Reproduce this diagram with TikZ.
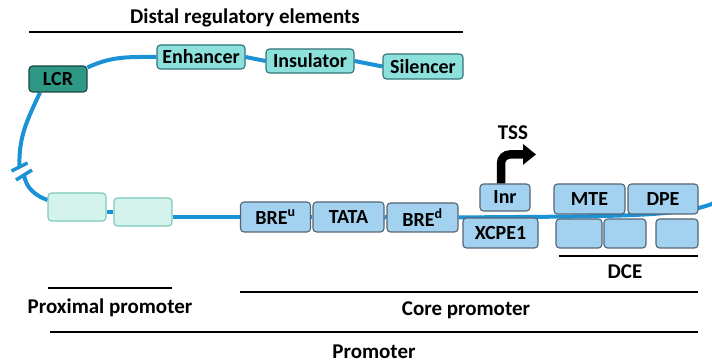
\documentclass[tikz,border=0pt]{standalone}
\usepackage{fontspec}
\setmainfont{Carlito}
\usetikzlibrary{arrows.meta,backgrounds}
\definecolor{dnablue}{RGB}{28,146,214}
\definecolor{tealfill}{RGB}{140,225,220}
\definecolor{tealdraw}{RGB}{50,115,120}
\definecolor{lcrfill}{RGB}{45,152,132}
\definecolor{lcrdraw}{RGB}{30,70,70}
\definecolor{proxfill}{RGB}{212,243,237}
\definecolor{proxdraw}{RGB}{125,200,185}
\definecolor{corefill}{RGB}{162,210,240}
\definecolor{coredraw}{RGB}{85,100,115}
\begin{document}
\begin{tikzpicture}[x=1pt,y=1pt,
  every node/.style={font=\fontsize{20}{22}\selectfont\bfseries, inner sep=0pt},
  elem/.style={rectangle, rounded corners=3.5pt, line width=1.1pt},
  distal/.style={elem, fill=tealfill, draw=tealdraw},
  lcrbox/.style={elem, fill=lcrfill, draw=lcrdraw},
  proxbox/.style={elem, fill=proxfill, draw=proxdraw},
  corebox/.style={elem, fill=corefill, draw=coredraw},
  dna/.style={draw=dnablue, line width=4pt},
  bracket/.style={draw=black, line width=1.4pt},
  title/.style={font=\fontsize{21}{23}\selectfont\bfseries}]
\useasboundingbox (0,0) rectangle (712,364);
% distal elements
\node[lcrbox, minimum width=58pt, minimum height=26pt] (LCR) at (58,285) {LCR};
\node[distal, minimum width=88pt, minimum height=24pt] (Enh) at (201,307) {Enhancer};
\node[distal, minimum width=88pt, minimum height=24pt] (Ins) at (310,303) {Insulator};
\node[distal, minimum width=80pt, minimum height=25pt] (Sil) at (423,297.5) {Silencer};
% proximal
\node[proxbox, minimum width=58pt, minimum height=28pt] (P1) at (77,157) {};
\node[proxbox, minimum width=58pt, minimum height=28pt] (P2) at (143,152) {};
% core
\node[corebox, minimum width=70pt, minimum height=30pt] (BREu) at (275.5,147) {BRE\textsuperscript{u}};
\node[corebox, minimum width=71pt, minimum height=30pt] (TATA) at (348.5,147) {TATA};
\node[corebox, minimum width=71pt, minimum height=29pt] (BREd) at (422.5,146.5) {BRE\textsuperscript{d}};
\node[corebox, minimum width=50pt, minimum height=27pt] (Inr) at (505,166.5) {Inr};
\node[corebox, minimum width=75pt, minimum height=30pt] (XCPE) at (500.5,131) {XCPE1};
\node[corebox, minimum width=71pt, minimum height=30pt] (MTE) at (589.5,165) {MTE};
\node[corebox, minimum width=70pt, minimum height=30pt] (DPE) at (663,165) {DPE};
\node[corebox, minimum width=46pt, minimum height=29pt] (D1) at (579,130.5) {};
\node[corebox, minimum width=42pt, minimum height=29pt] (D2) at (625,130.5) {};
\node[corebox, minimum width=42pt, minimum height=29pt] (D3) at (677,130.5) {};
% DNA line
\coordinate (brkA) at (19.5,197);
\coordinate (brkB) at (24,189);
\coordinate (dnaend) at (714,161);
\begin{pgfonlayer}{background}
\draw[dna] ([xshift=-18pt]LCR.south) to[out=245,in=92] (brkA);
\draw[dna] (brkB) to[out=-80,in=160] ([yshift=7pt]P1.west);
\draw[dna] ([yshift=-2pt]LCR.north east) to[out=25,in=180] (Enh.west);
\draw[dna] (Enh.east) -- (Ins.west);
\draw[dna] (Ins.east) -- (Sil.west);
\draw[dna] (P1.east |- P2.west) -- (P2.west);
\draw[dna] (P2.east |- BREu.west) -- (BREu.west);
\draw[dna] (BREu.east) -- (TATA.west);
\draw[dna] (TATA.east) -- (BREd.west);
\draw[dna] (BREd.east) .. controls (600,148) and (680,146) .. (dnaend);
\end{pgfonlayer}
% break marks
\draw[draw=dnablue, line width=3.5pt] ([shift={(-8,-4)}]brkA) -- ([shift={(8,4)}]brkA);
\draw[draw=dnablue, line width=3.5pt] ([shift={(-8,-5)}]brkB) -- ([shift={(8,5)}]brkB);
% TSS arrow
\draw[line width=8.5pt, rounded corners=9pt, -{Triangle[length=13pt,width=20pt]}]
  ([xshift=-4pt]Inr.north) |- ++(35,29);
\node[title] (TSS) at (513,231) {TSS};
% brackets and labels
\node[title] (distT) at (245,346) {Distal regulatory elements};
\draw[bracket] (29,332) -- (463,332);
\node[title] (proxT) at (110,56) {Proximal promoter};
\draw[bracket] (48,76) -- (172,76);
\node[title] (dceT) at (625,92) {DCE};
\draw[bracket] (559,108) -- (698,108);
\node[title] (coreT) at (466,54) {Core promoter};
\draw[bracket] (240,72) -- (698,72);
\node[title] (promT) at (374,12) {Promoter};
\draw[bracket] (50,32) -- (698,32);
\end{tikzpicture}
\end{document}
